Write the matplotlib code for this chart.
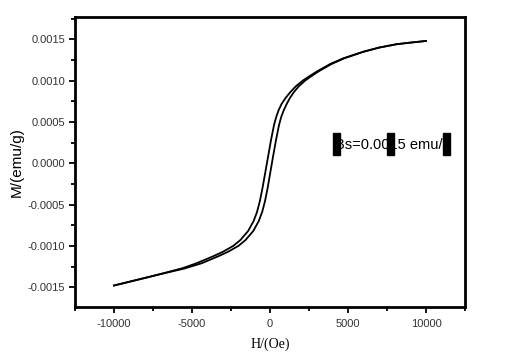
import matplotlib
matplotlib.use("Agg")
import matplotlib.pyplot as plt
from matplotlib.patches import Rectangle
from matplotlib.ticker import MultipleLocator, FixedLocator

# descending branch (upper / left line of the loop)
H_down = [10000, 9000, 8100, 7000, 6000, 5500, 4700, 3850, 3000, 2500, 2100, 1650, 1300,
          1000, 750, 550, 400, 256, 64, -106, -276, -470, -650, -830, -1050, -1400, -1900,
          -2350, -3000, -3630, -4700, -5600, -7700, -10000]
M_down = [0.00148, 0.00146, 0.00144, 0.00140, 0.00135, 0.00132, 0.00127, 0.00120,
          0.00111, 0.00105, 0.00100, 0.00093, 0.00086, 0.00079, 0.00072, 0.00064, 0.00056,
          0.00046, 0.000278, 0.000097, -0.000085, -0.00029, -0.00046, -0.00059, -0.00070,
          -0.00082, -0.00093, -0.00100, -0.00107, -0.001125, -0.00121, -0.00127,
          -0.001375, -0.00148]

# ascending branch (lower / right line of the loop)
H_up = [-10000, -7650, -5500, -4370, -3300, -2670, -2020, -1570, -1070, -720, -500, -320,
        -140, 45, 212, 385, 577, 720, 880, 1080, 1280, 1530, 1840, 2250, 2620, 3100, 3930,
        4760, 5540, 6000, 7000, 8100, 9000, 10000]
M_up = [-0.00148, -0.00137, -0.001275, -0.00121, -0.001125, -0.00107, -0.00100, -0.00093,
        -0.00082, -0.00070, -0.00059, -0.00046, -0.00029, -0.000085, 0.000097, 0.000278,
        0.00046, 0.00056, 0.00064, 0.00072, 0.00079, 0.00086, 0.00093, 0.00100, 0.00105,
        0.00111, 0.00120, 0.00127, 0.00132, 0.00135, 0.00140, 0.00144, 0.00146, 0.00148]

x_ticks = [-10000, -5000, 0, 5000, 10000]
y_ticks = [-0.0015, -0.0010, -0.0005, 0.0000, 0.0005, 0.0010, 0.0015]
y_labels = ["-0.0015", "-0.0010", "-0.0005", "0.0000", "0.0005", "0.0010", "0.0015"]
note = "Bs=0.0015 emu/g"
handle_H = [4263, 7756, 11314]

fig = plt.figure(figsize=(5.08, 3.64), dpi=100)
ax = fig.add_axes([0.1476, 0.1566, 0.7677, 0.7967])

ax.plot(H_down, M_down, color="black", lw=1.3, solid_joinstyle="round")
ax.plot(H_up, M_up, color="black", lw=1.3, solid_joinstyle="round")

ax.set_xlim(-12500, 12500)
ax.set_ylim(-0.00174, 0.00177)

ax.xaxis.set_major_locator(FixedLocator(x_ticks))
ax.xaxis.set_minor_locator(MultipleLocator(2500))
ax.yaxis.set_major_locator(FixedLocator(y_ticks))
ax.yaxis.set_minor_locator(MultipleLocator(0.00025))
ax.set_xticklabels([str(v) for v in x_ticks], fontsize=8, family="Liberation Sans", color="#333333")
ax.set_yticklabels(y_labels, fontsize=8, family="Liberation Sans", color="#333333")

ax.tick_params(which="major", direction="out", length=4, width=1.3, top=False, right=False)
ax.tick_params(axis="y", which="major", pad=3)
ax.tick_params(axis="x", which="major", pad=5)
ax.tick_params(which="minor", direction="out", length=3, width=1.3, top=False, right=False)

for s in ax.spines.values():
    s.set_linewidth(2)

ax.set_xlabel("H/(Oe)", family="Liberation Serif", fontsize=10, labelpad=6)
ax.set_ylabel("M/(emu/g)", family="Liberation Sans", fontsize=11, labelpad=3)

# annotation with the black handle marks
for hx in handle_H:
    ax.add_patch(Rectangle((hx - 225, 0.0000968), 450, 0.000266, color="black", zorder=3))
ax.text(7885, 0.00022, note, ha="center", va="center", fontsize=10.5,
        family="Liberation Sans", zorder=4)

fig.savefig("out.png", dpi=100)
